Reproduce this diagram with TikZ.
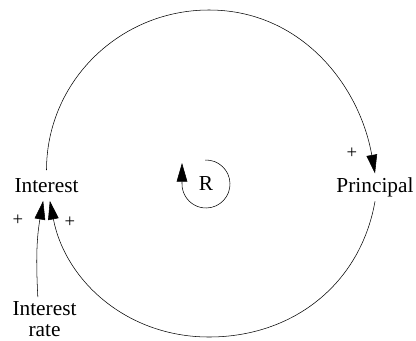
\documentclass[tikz,border=0pt]{standalone}
\usepackage{fontspec}
\setmainfont{LiberationSerif-Regular.ttf}
\usetikzlibrary{arrows.meta}

\begin{document}
\begin{tikzpicture}[
  x=0.75pt, y=0.75pt,
  nodovar/.style={font=\fontsize{16}{15.75}\selectfont, inner sep=3pt, align=center},
  signo/.style={font=\fontsize{14}{16}\selectfont, inner sep=0pt},
  flecha/.style={-{Triangle[length=14pt, width=8pt]}}
]
\useasboundingbox (0,0) rectangle (416,340);
\node[nodovar, inner sep=6pt] (interes) at (46.5,154.5) {Interest};
\node[nodovar] (principal) at (375,152.6) {Principal};
\node[nodovar] (tasa) at (44.5,21) {Interest\\rate};
\node[nodovar] (bucle) at (206,156) {R};
\coordinate (arriba) at (209,330);
\coordinate (abajo) at (209,3);

\draw[flecha] (interes.north) to[out=90, in=180] (arriba) to[out=0, in=100] (principal.north);
\draw[flecha] (principal.south) to[out=-100, in=0] (abajo) to[out=180, in=-79] ([xshift=2.5pt]interes.south);
\draw[flecha] ([xshift=-5pt]tasa.north) to[out=93, in=-100] ([xshift=-2.5pt]interes.south);
\draw[flecha] ([shift={(92:24)}]bucle.center) arc[start angle=92, end angle=-180, radius=24] -- ++(0,21);

\node[signo] (mas1) at (18,120) {+};
\node[signo] (mas2) at (70,118) {+};
\node[signo] (mas3) at (352,187) {+};
\end{tikzpicture}
\end{document}
